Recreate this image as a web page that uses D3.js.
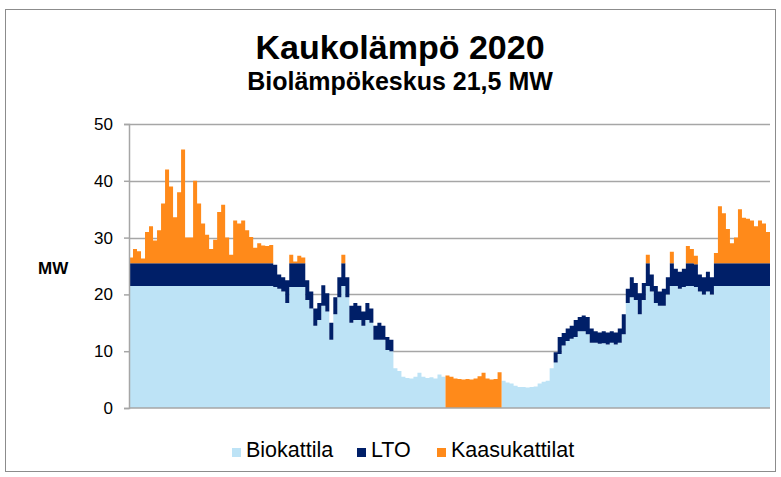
<!DOCTYPE html>
<html><head><meta charset="utf-8">
<script src="https://cdn.jsdelivr.net/npm/d3@7"></script>
<style>
html,body{margin:0;padding:0;background:#fff;}
text{font-family:"Liberation Sans",Arial,sans-serif;}
</style></head>
<body><svg id="c" width="781" height="477"></svg>
<script>
const title = "Kaukolämpö 2020";
const subtitle = "Biolämpökeskus 21,5 MW";
const yLabel = "MW";
const yTicks = [0, 10, 20, 30, 40, 50];
const seriesNames = ["Biokattila", "LTO", "Kaasukattilat"];
const seriesColors = ["#BDE3F6", "#001F68", "#FF8A1A"];

// sampled values through the year (about every 2.3 days)
const biokattila = [
21.5,21.5,21.5,21.5,21.5,21.5,21.5,21.5,21.5,21.5,21.5,21.5,21.5,21.5,21.5,21.5,21.5,21.5,21.5,21.5,
21.5,21.5,21.5,21.5,21.5,21.5,21.5,21.5,21.5,21.5,21.5,21.5,21.5,21.5,21.5,21.5,21.3,21,20.5,18.5,
21.3,21.3,21.3,21.3,19,17.5,14.5,15.5,18,17,12,16.5,19.5,21.5,19.5,15,15.5,15.5,14.5,15.5,
15,12,12,12,10.2,10,7,6.5,5.5,5.3,5.2,5.5,6.2,5.5,5.3,5.4,5.2,5.9,5.5,0,
0,0,0,0,0,0,0,0,0,0,0,0,0,4.8,4.5,4.3,3.9,3.7,3.7,3.6,
3.7,3.8,4.3,4.6,4.8,7,8,9.5,11,11.8,12.2,12.5,13.5,13.5,13,11.5,11.5,11.3,11.4,11.2,
11.5,11.2,11.5,13,18.5,19.5,19,16.5,19,21.5,20.5,18.5,18,18,20,21.5,21.5,21,21.3,21.5,
21.5,21.3,20.5,20,20.5,20,21.5,21.5,21.5,21.5,21.5,21.5,21.5,21.5,21.5,21.5,21.5,21.5,21.5,21.5
];
const lto = [
4,4,4,4,4,4,4,4,4,4,4,4,4,4,4,4,4,4,4,4,
4,4,4,4,4,4,4,4,4,4,4,4,4,4,4,4,3.9,2.5,2.5,4,
4.2,4.2,4.2,4.2,3.5,3,3,3,3.6,3.2,3,3,3.5,4,3.5,3,3,2.5,2.5,3,
2.5,2.5,3,2.5,2.3,2,0,0,0,0,0,0,0,0,0,0,0,0,0,0,
0,0,0,0,0,0,0,0,0,0,0,0,0,0,0,0,0,0,0,0,
0,0,0,0,0,0,1.8,3,2.2,2.2,2.3,3,2.5,2.8,3,2.5,2,2,2.1,2.1,
2,2.1,2.5,3.5,2.5,3.5,3,3.7,3,4,3,3,2.5,3,3,4,3,3,3.2,4,
4,4,3,3,3.5,3,4,4,4,4,4,4,4,4,4,4,4,4,4,4
];
const kaasukattilat = [
1,2.5,2.1,0.8,5.5,6.5,4,5.8,10.5,16.5,13.5,8.1,12.5,20,4.5,4.5,14.5,10.5,7,5,
2.5,4.1,9,10.3,4.5,1.5,7.5,7,7.5,5.8,4.6,2.7,3.5,3.1,3,3.2,0,0,0,0,
1.5,0.3,1.3,1,0,0,0,0,0,0,0,0,0,1.5,0,0,0,0,0,0,
0,0,0,0,0,0,0,0,0,0,0,0,0,0,0,0,0,0,0,5.7,
5.5,5.2,5.1,5,5.1,5,5.2,5.6,6.2,5.2,5,5.1,6.3,0,0,0,0,0,0,0,
0,0,0,0,0,0,0,0,0,0,0,0,0,0,0,0,0,0,0,0,
0,0,0,0,0,0,0,0,0,1.5,0,0,0,0,0,2,0,0,0,3,
2.5,1.5,0,0,0,0,1.8,10,8.8,6,3.5,4.5,9.5,8,7.8,7.5,6.5,7.5,7,5.5
];

const svg = d3.select("#c");
const m = {left:129, right:770, top:124, bottom:408};

svg.append("rect").attr("x",5.5).attr("y",9.5).attr("width",770).attr("height",462)
  .attr("fill","#fff").attr("stroke","#8c8c8c").attr("stroke-width",1);

const n = biokattila.length;
const x = d3.scaleLinear().domain([0, n]).range([m.left, m.right]);
const y = d3.scaleLinear().domain([0, 50]).range([m.bottom, m.top]);

// gridlines
svg.append("g").selectAll("line").data(yTicks.filter(t=>t>0)).join("line")
  .attr("x1", m.left).attr("x2", m.right)
  .attr("y1", d=>Math.round(y(d))+0.5).attr("y2", d=>Math.round(y(d))+0.5)
  .attr("stroke","#a6a6a6").attr("stroke-width",1.6);

// data
const rows = d3.range(n + 1).map(i => {
  const k = Math.min(i, n - 1);
  return {i, Biokattila: biokattila[k], LTO: lto[k], Kaasukattilat: kaasukattilat[k]};
});
const stack = d3.stack().keys(seriesNames)(rows);
const area = d3.area().curve(d3.curveStepAfter)
  .x(d => x(d.data.i)).y0(d => y(d[0])).y1(d => y(d[1]));
svg.append("g").selectAll("path").data(stack).join("path")
  .attr("d", area).attr("fill", (d,i)=>seriesColors[i]);

// axes
const yAxis = d3.axisLeft(y).tickValues(yTicks).tickSize(5).tickPadding(11);
const gy = svg.append("g").attr("transform",`translate(${m.left},0)`).call(yAxis);
gy.select(".domain").attr("stroke","#a6a6a6").attr("stroke-width",1.5);
gy.selectAll(".tick line").attr("stroke","#a6a6a6").attr("stroke-width",1.5);
gy.selectAll(".tick text").attr("font-size",17).attr("fill","#000")
  .attr("font-family","Liberation Sans, Arial, sans-serif");
svg.append("line").attr("x1",m.left).attr("x2",m.right).attr("y1",m.bottom).attr("y2",m.bottom)
  .attr("stroke","#a6a6a6").attr("stroke-width",1.5);

// titles
svg.append("text").attr("x",400).attr("y",59).attr("text-anchor","middle")
  .attr("font-size",34).attr("font-weight","bold").text(title);
svg.append("text").attr("x",400).attr("y",90).attr("text-anchor","middle")
  .attr("font-size",25).attr("font-weight","bold").text(subtitle);
svg.append("text").attr("x",38).attr("y",274).attr("font-size",17)
  .attr("font-weight","bold").text(yLabel);

// legend
const legX = [232, 357, 437];
const lg = svg.append("g");
seriesNames.forEach((s,i)=>{
  lg.append("rect").attr("x",legX[i]).attr("y",448).attr("width",9).attr("height",9).attr("fill",seriesColors[i]);
  lg.append("text").attr("x",legX[i]+14).attr("y",457).attr("font-size",21.5).text(s);
});
</script></body></html>
